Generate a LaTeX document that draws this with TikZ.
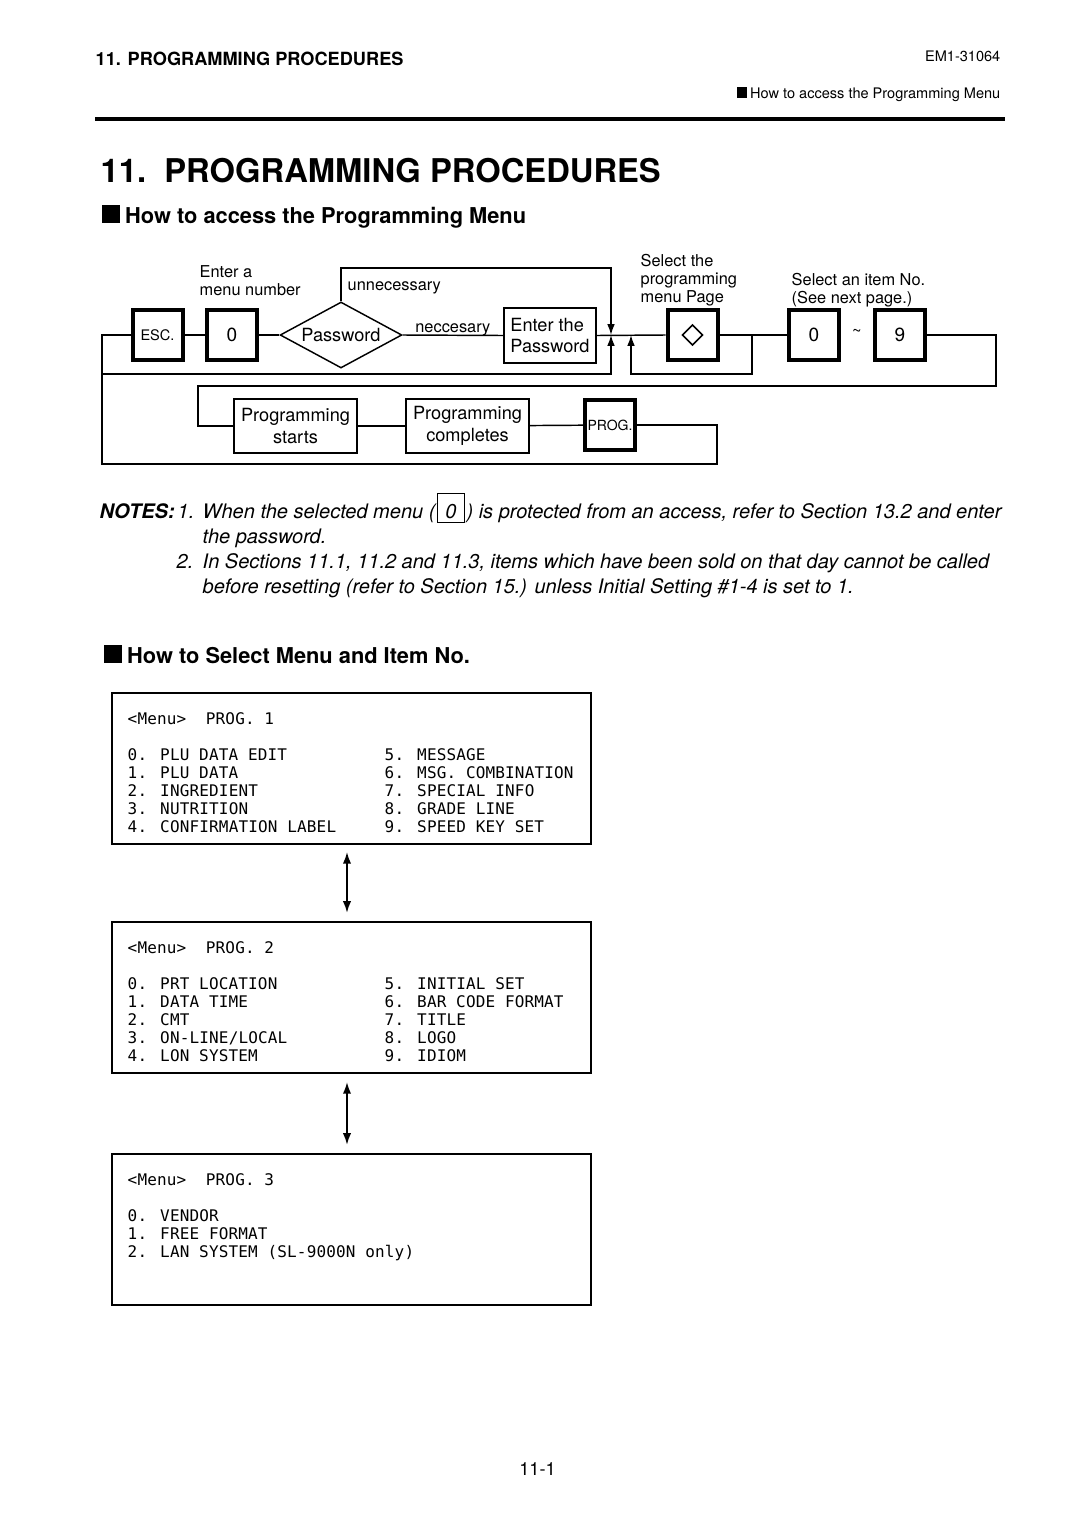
\documentclass[tikz,border=0pt]{standalone}
\usepackage{fontspec}
\setmainfont{TeX Gyre Heros}
\newfontfamily\menufont[LetterSpace=1]{DejaVu Sans Mono}
\usetikzlibrary{positioning,arrows.meta,calc,shapes.geometric}

\tikzset{
  key/.style={draw,line width=2.2pt,minimum size=27.5pt,inner sep=0pt,font=\fontsize{10.5}{12}\selectfont},
  box/.style={draw,line width=1pt,inner sep=0pt,font=\fontsize{10}{12}\selectfont},
  lbl/.style={inner sep=0pt,align=left,font=\fontsize{9}{9.9}\selectfont},
  note/.style={inner sep=0pt,anchor=base west,font=\itshape\fontsize{11}{13.75}\selectfont},
  head/.style={inner sep=0pt,anchor=base west,font=\bfseries\fontsize{12}{14}\selectfont},
  arr/.style={-{Latex[length=6pt,width=4.2pt]}},
  dbl/.style={{Latex[length=6.5pt,width=4.6pt]}-{Latex[length=6.5pt,width=4.6pt]},line width=1.1pt},
  menubox/.style={draw,line width=1.1pt,minimum width=263.5pt,minimum height=83pt,inner sep=0pt,anchor=north west},
  menutext/.style={inner sep=0pt,align=left,anchor=north west,font=\menufont\fontsize{8.8}{9.9}\selectfont},
}

\begin{document}
\begin{tikzpicture}[x=0.55pt,y=-0.55pt,line width=0.8pt]
  \fill[white] (0,0) rectangle (1080,1525);
  \useasboundingbox (0,0) rectangle (1080,1525);

  % page header
  \node[inner sep=0pt,anchor=base west,font=\bfseries\fontsize{10}{12}\selectfont] (hdr) at (95,66) {11. PROGRAMMING PROCEDURES};
  \node[inner sep=0pt,anchor=base east,font=\fontsize{8}{10}\selectfont] (docno) at (1001,62) {EM1-31064};
  \node[inner sep=0pt,anchor=base east,font=\fontsize{8}{10}\selectfont] (sect) at (1001,98) {\rule{6pt}{6pt}\hspace{1.5pt}How to access the Programming Menu};
  \draw[line width=2.5pt] (95,119) -- (1005,119);

  \node[inner sep=0pt,anchor=base west,font=\bfseries\fontsize{18}{22}\selectfont] (title) at (100,182) {11.\ \ PROGRAMMING PROCEDURES};
  \node[head] (head1) at (101,223) {\rule{9.9pt}{9.9pt}\hspace{3pt}How to access the Programming Menu};

  % flow of keys
  \node[key,font=\fontsize{8}{10}\selectfont] (esc) at (157.5,335) {ESC.};
  \node[key] (num) at (232,335) {0};
  \node[draw,diamond,aspect=2,minimum width=67pt,minimum height=36.3pt,inner sep=0pt,font=\fontsize{10}{12}\selectfont] (pwd) at (341,335) {Password};
  \node[box,align=left,minimum width=50.6pt,minimum height=30.3pt] (ent) at (550,335.5) {Enter the\\Password};
  \node[key] (dia) at (692.5,335) {};
  \draw (dia.center) ++(0,-10) -- ++(10,10) -- ++(-10,10) -- ++(-10,-10) -- cycle;
  \node[key] (k0) at (814,335) {0};
  \node[lbl] (tl) at (857,333) {\textasciitilde};
  \node[key] (k9) at (900,335) {9};

  \node[box,align=center,minimum width=67.7pt,minimum height=29.7pt] (pst) at (295.5,426) {Programming\\starts};
  \node[box,align=center,minimum width=67.7pt,minimum height=29.7pt] (pcm) at (467.5,426) {Programming\\completes};
  \node[key,font=\fontsize{7.7}{9}\selectfont] (prog) at (610,425) {PROG.};

  \node[lbl,anchor=north west] (entlbl) at (199,265) {Enter a\\menu number};
  \node[lbl,anchor=base west] (unn) at (347,290) {unnecessary};
  \node[lbl,anchor=north west] (sellbl) at (640,254) {Select the\\programming\\menu Page};
  \node[lbl,anchor=north west] (itmlbl) at (791,273) {Select an item No.\\(See next page.)};

  \coordinate (jA) at (611,335);
  \coordinate (jB) at (631,335);
  \coordinate (topR) at (611,268);
  \coordinate (midL) at (102,374);
  \coordinate (brk) at (752,335);
  \coordinate (lowR) at (717,464);
  \coordinate (lowL) at (102,464);
  \coordinate (rr) at (996,386);
  \coordinate (ll) at (198,386);

  \draw (esc) -- (num);
  \draw (num) -- (pwd);
  \draw (pwd.east) -- node[lbl,midway,anchor=base,yshift=1.7pt] {neccesary} (ent.west);
  \draw (ent.east) -- (dia.west);
  \draw (dia.east) -- (k0.west);
  \draw[arr] (pwd.north) |- (topR) -- (jA);
  \draw[arr] (midL) -| (jA);
  \draw[arr] (brk) -- ++(0,39) -| (jB);
  \draw (k9.east) -| (rr) -- (ll) |- (pst.west);
  \draw (pst) -- (pcm);
  \draw (pcm) -- (prog);
  \draw (prog.east) -| (lowR) -- (lowL) |- (esc.west);

  % notes
  \node[inner sep=0pt,anchor=base west,font=\bfseries\itshape\fontsize{11}{12}\selectfont] (notes) at (99,518) {NOTES:};
  \node[note] (n1num) at (177,518) {1.};
  \node[note] (n1a) at (202,518) {When the selected menu (\kern1pt{\fboxsep=0pt\fboxrule=0.5pt\fbox{\rule[-2.2pt]{0pt}{15.2pt}\hspace{4pt}0\hspace{4pt}}}\kern1pt) is protected from an access, refer to Section 13.2 and enter};
  \node[note] (n1b) at (202,543) {the password.};
  \node[note] (n2num) at (176,568) {2.};
  \node[note] (n2a) at (202,568) {In Sections 11.1, 11.2 and 11.3, items which have been sold on that day cannot be called};
  \node[note] (n2b) at (202,593) {before resetting (refer to Section 15.) unless Initial Setting \#1-4 is set to 1.};

  \node[head] (head2) at (103,663) {\rule{9.9pt}{9.9pt}\hspace{3pt}How to Select Menu and Item No.};

  % menu pages
  \node[menubox] (m1) at (111,692) {};
  \node[menutext] (m1h) at ($(m1.north west)+(16,20)$) {<Menu>\ \ PROG. 1};
  \node[menutext] (m1l) at ($(m1.north west)+(16,56)$) {0. PLU DATA EDIT\\1. PLU DATA\\2. INGREDIENT\\3. NUTRITION\\4. CONFIRMATION LABEL};
  \node[menutext] (m1r) at ($(m1.north west)+(273,56)$) {5. MESSAGE\\6. MSG. COMBINATION\\7. SPECIAL INFO\\8. GRADE LINE\\9. SPEED KEY SET};

  \node[menubox] (m2) at (111,921) {};
  \node[menutext] (m2h) at ($(m2.north west)+(16,20)$) {<Menu>\ \ PROG. 2};
  \node[menutext] (m2l) at ($(m2.north west)+(16,56)$) {0. PRT LOCATION\\1. DATA TIME\\2. CMT\\3. ON-LINE/LOCAL\\4. LON SYSTEM};
  \node[menutext] (m2r) at ($(m2.north west)+(273,56)$) {5. INITIAL SET\\6. BAR CODE FORMAT\\7. TITLE\\8. LOGO\\9. IDIOM};

  \node[menubox] (m3) at (111,1153) {};
  \node[menutext] (m3h) at ($(m3.north west)+(16,20)$) {<Menu>\ \ PROG. 3};
  \node[menutext] (m3l) at ($(m3.north west)+(16,56)$) {0. VENDOR\\1. FREE FORMAT\\2. LAN SYSTEM (SL-9000N only)};

  \draw[dbl,shorten <=3.8pt,shorten >=4.4pt] ([xshift=-2.5pt]m1.south) -- ([xshift=-2.5pt]m2.north);
  \draw[dbl,shorten <=4.4pt,shorten >=4.4pt] ([xshift=-2.5pt]m2.south) -- ([xshift=-2.5pt]m3.north);

  \node[inner sep=0pt,anchor=base,font=\fontsize{10}{12}\selectfont] (pgno) at (537.5,1475) {11-1};
\end{tikzpicture}
\end{document}
